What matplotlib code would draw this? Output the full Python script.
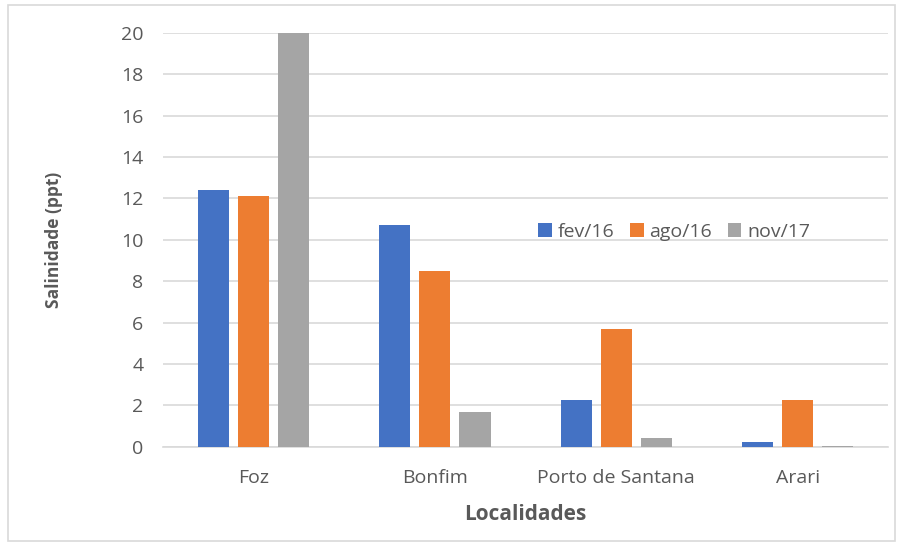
import numpy as np
import matplotlib.pyplot as plt
import matplotlib.patches as patches

plt.rcParams['font.family'] = ['Open Sans', 'DejaVu Sans']

# Salinidade por localidade e campanha
localidades = ["Foz", "Bonfim", "Porto de Santana", "Arari"]
campanhas = ["fev/16", "ago/16", "nov/17"]
fev16 = [12.4, 10.7, 2.25, 0.25]
ago16 = [12.1, 8.5, 5.7, 2.25]
nov17 = [20.0, 1.7, 0.45, 0.05]
cores = ["#4472C4", "#ED7D31", "#A5A5A5"]

fig = plt.figure(figsize=(9, 5.47), dpi=100)
ax = fig.add_axes([0.181, 0.183, 0.806, 0.757])

# moldura externa do gráfico
fig.patches.append(patches.Rectangle((0.009, 0.011), 0.985, 0.98, transform=fig.transFigure,
                                     fill=False, edgecolor="#D9D9D9", linewidth=1.2))

x = np.arange(len(localidades))
passo = 0.221
largura = 0.171
for i, (serie, nome) in enumerate(zip([fev16, ago16, nov17], campanhas)):
    ax.bar(x + (i - 1) * passo, serie, width=largura, color=cores[i], label=nome, zorder=3)

ax.set_xlim(-0.5, 3.5)
ax.set_ylim(0, 20)
ax.set_yticks(np.arange(0, 21, 2))
ax.set_xticks(x)
ax.set_xticklabels(localidades)
ax.grid(axis='y', color="#D9D9D9", linewidth=1.2, zorder=0)
for lado in ['top', 'right', 'left']:
    ax.spines[lado].set_visible(False)
ax.spines['bottom'].set_color("#D9D9D9")
ax.spines['bottom'].set_linewidth(1.2)
ax.tick_params(length=0, labelsize=14, colors="#595959")
ax.tick_params(axis='x', pad=16)
ax.tick_params(axis='y', pad=14)

ax.set_ylabel("Salinidade (ppt)", fontsize=12.5, fontweight='bold', color="#595959", labelpad=42)
ax.set_xlabel("Localidades", fontsize=15, fontweight='bold', color="#595959", labelpad=12)

ax.legend(loc='center', bbox_to_anchor=(0.705, 0.52), ncol=3, frameon=False, fontsize=14,
          handlelength=0.7, handleheight=0.7, handletextpad=0.3, columnspacing=0.8,
          labelcolor="#595959")

fig.savefig("out.png")
